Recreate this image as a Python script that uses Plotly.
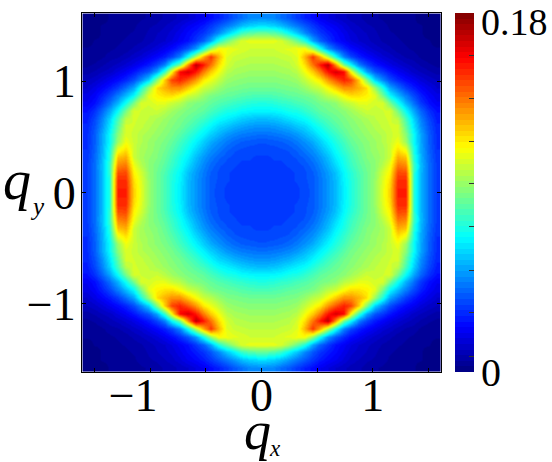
import numpy as np
import plotly.graph_objects as go

# cell centres of the upper right quadrant, the picture is mirrored in both axes
q_centers = [0.035, 0.105, 0.175, 0.245, 0.315, 0.385, 0.455, 0.525, 0.595, 0.665, 0.735, 0.805,
             0.875, 0.945, 1.015, 1.085, 1.155, 1.225, 1.295, 1.365, 1.435, 1.505, 1.575]

# intensity in thousandths, first row is the one next to q_y = 0
quadrant = [
    [33, 33, 33, 33, 33, 35, 38, 43, 49, 56, 65, 73, 80, 87, 94, 108, 120, 152, 152, 75, 55, 42, 33],
    [33, 33, 33, 33, 34, 36, 38, 43, 49, 56, 66, 73, 80, 87, 94, 107, 118, 150, 150, 75, 55, 42, 33],
    [33, 33, 33, 33, 34, 36, 39, 44, 50, 57, 67, 74, 81, 87, 93, 105, 114, 145, 144, 76, 55, 42, 33],
    [33, 33, 33, 34, 35, 37, 41, 46, 53, 61, 70, 77, 83, 88, 92, 100, 110, 137, 134, 78, 56, 42, 33],
    [33, 34, 34, 35, 37, 40, 44, 49, 56, 65, 72, 79, 85, 90, 93, 97, 104, 128, 124, 74, 54, 41, 32],
    [35, 35, 36, 37, 40, 44, 48, 54, 61, 69, 76, 82, 87, 91, 95, 97, 104, 118, 110, 72, 53, 40, 31],
    [37, 38, 39, 41, 44, 48, 53, 59, 66, 73, 79, 85, 89, 92, 95, 99, 103, 110, 95, 68, 52, 39, 30],
    [42, 43, 44, 46, 49, 54, 59, 65, 71, 77, 83, 88, 91, 94, 97, 99, 103, 106, 92, 68, 52, 39, 30],
    [48, 49, 51, 53, 57, 60, 66, 71, 77, 82, 87, 90, 93, 96, 99, 102, 104, 106, 85, 64, 48, 37, 29],
    [56, 57, 59, 62, 65, 68, 73, 78, 82, 86, 89, 92, 95, 98, 101, 103, 105, 100, 80, 60, 45, 35, 27],
    [66, 67, 68, 71, 72, 76, 80, 84, 87, 89, 92, 96, 100, 104, 102, 104, 106, 88, 68, 52, 40, 31, 25],
    [73, 74, 76, 77, 80, 82, 85, 88, 90, 93, 100, 103, 108, 108, 105, 106, 88, 70, 54, 42, 32, 25, 20],
    [80, 81, 82, 84, 85, 87, 89, 94, 100, 104, 112, 118, 117, 114, 108, 88, 68, 56, 45, 35, 28, 22, 18],
    [87, 87, 88, 89, 90, 94, 100, 103, 112, 122, 132, 132, 126, 118, 95, 72, 52, 42, 33, 27, 22, 18, 14],
    [91, 91, 92, 93, 95, 102, 109, 116, 131, 143, 152, 146, 122, 90, 60, 46, 36, 29, 24, 20, 16, 13, 11],
    [95, 95, 96, 97, 100, 110, 121, 135, 154, 165, 157, 113, 78, 52, 38, 32, 26, 21, 17, 13, 11, 9, 7],
    [98, 98, 99, 100, 105, 118, 137, 153, 170, 132, 88, 68, 45, 34, 27, 22, 18, 15, 12, 10, 8, 6, 5],
    [101, 101, 102, 103, 107, 126, 148, 128, 100, 70, 46, 35, 28, 23, 19, 15, 13, 10, 8, 7, 5, 4, 3],
    [104, 104, 106, 108, 110, 112, 95, 72, 50, 38, 30, 24, 20, 16, 13, 11, 9, 7, 6, 5, 4, 3, 3],
    [108, 108, 106, 98, 87, 73, 52, 40, 32, 25, 21, 17, 14, 12, 10, 8, 7, 6, 5, 4, 3, 3, 2],
    [85, 83, 78, 68, 58, 47, 38, 32, 27, 23, 19, 15, 13, 11, 9, 7, 6, 5, 4, 3, 3, 2, 2],
    [62, 60, 56, 50, 44, 38, 32, 27, 23, 20, 16, 13, 11, 9, 8, 7, 5, 4, 4, 3, 3, 2, 2],
    [47, 46, 42, 38, 33, 28, 24, 20, 17, 14, 12, 10, 9, 7, 6, 5, 4, 4, 3, 3, 2, 2, 1],
]

x_ticks = [-1.5, -1, -0.5, 0, 0.5, 1, 1.5]
x_tick_labels = ["", "\u22121\u00a0\u00a0\u00a0", "", "0", "", "1", ""]
y_ticks = [-1, 0, 1]
y_tick_labels = ["\u22121", "0", "1"]
cbar_ticks = [0.0077, 0.0297, 0.051, 0.073, 0.0945, 0.1155, 0.137, 0.1585]

SERIF = "Liberation Serif"
L, R, T, B = 82, 441, 13, 372  # plot box in pixels


def jet_steps(n=64):
    """Stepped jet colormap, n flat levels like the original figure."""
    scale = []
    for i in range(n):
        f = (i + 0.5) / n
        r = np.clip(min(4 * f - 1.5, -4 * f + 4.5), 0, 1)
        g = np.clip(min(4 * f - 0.5, -4 * f + 3.5), 0, 1)
        b = np.clip(min(4 * f + 0.5, -4 * f + 2.5), 0, 1)
        color = f"rgb({int(r * 255)},{int(g * 255)},{int(b * 255)})"
        scale += [[i / n, color], [(i + 1) / n, color]]
    return scale


def label(text, px, py, size, italic=False):
    """Free text placed by its centre, given in page pixels."""
    return dict(
        text=f"<i>{text}</i>" if italic else text,
        xref="paper", yref="paper",
        x=(px - L) / (R - L), y=(B - py) / (B - T),
        xanchor="center", yanchor="middle",
        showarrow=False,
        font=dict(family=SERIF, size=size, color="black"),
    )


upper = np.array(quadrant) / 1000
full = np.hstack([upper[:, ::-1], upper])
full = np.vstack([full[::-1], full])
centers = [-c for c in q_centers[::-1]] + q_centers

fig = go.Figure(go.Heatmap(
    x=centers, y=centers, z=full,
    zmin=0, zmax=0.18,
    zsmooth="best",
    colorscale=jet_steps(),
    colorbar=dict(
        x=(455 - L) / (R - L), xanchor="left", xpad=0,
        y=0.5, yanchor="middle", ypad=0,
        len=1, lenmode="fraction", thickness=19,
        outlinewidth=0,
        tickmode="array", tickvals=cbar_ticks,
        ticks="inside", ticklen=5, tickcolor="#333333", tickwidth=1,
        showticklabels=False,
    ),
))

axis_style = dict(
    range=[-1.615, 1.615], showgrid=False, zeroline=False,
    showline=True, linecolor="black", linewidth=1, mirror="allticks",
    ticks="inside", ticklen=4, tickcolor="black", tickwidth=1,
    tickfont=dict(family=SERIF, size=46, color="black"),
    tickmode="array",
)
fig.update_xaxes(tickvals=x_ticks, ticktext=x_tick_labels, ticklabelstandoff=-17, **axis_style)
fig.update_yaxes(tickvals=y_ticks, ticktext=y_tick_labels, ticklabelstandoff=-4, **axis_style)

fig.update_layout(
    width=552, height=462,
    margin=dict(l=L, r=552 - R, t=T, b=462 - B, autoexpand=False),
    paper_bgcolor="white", plot_bgcolor="white",
    annotations=[
        label("q", 257, 431, 54, italic=True),
        label("x", 275, 448.5, 23, italic=True),
        label("q", 17, 180, 56, italic=True),
        label("y", 37, 206, 25, italic=True),
        label("0.18", 514, 22, 38),
        label("0", 491, 372, 40),
    ],
)

# the page keeps its default 8px body margin otherwise
fig.write_html("out.html", post_script="document.body.style.margin='0';",
               config={"displayModeBar": False})
